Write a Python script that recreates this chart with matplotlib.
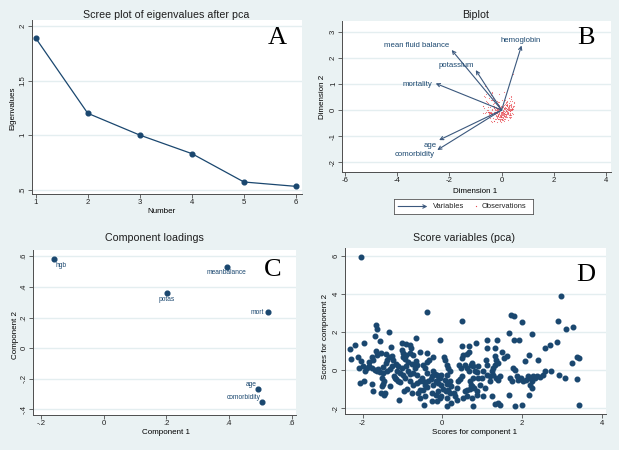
import matplotlib
matplotlib.use('Agg')
import matplotlib.pyplot as plt
import numpy as np

plt.rcParams['font.family'] = ['Liberation Sans', 'DejaVu Sans']

# ---------------- data ----------------
# Panel A: scree plot
component_number = [1, 2, 3, 4, 5, 6]
eigenvalues = [1.89, 1.20, 1.00, 0.83, 0.57, 0.53]

# Panel B: biplot variable arrows (tips)
var_names = ['hemoglobin', 'mean fluid balance', 'potassium', 'mortality', 'age', 'comorbidity']
var_dim1 = [0.76, -1.91, -0.99, -2.52, -2.39, -2.46]
var_dim2 = [2.47, 2.30, 1.53, 1.02, -1.15, -1.53]
# scaling of scores into biplot observation coordinates (dimension 1 sign-flipped)
biplot_obs_scale = (-4.8, 4.3)

# Panel C: component loadings
load_names = ['hgb', 'meanbalance', 'potas', 'mort', 'age', 'comorbidity']
load_comp1 = [-0.16, 0.393, 0.201, 0.523, 0.494, 0.507]
load_comp2 = [0.58, 0.533, 0.357, 0.237, -0.267, -0.352]

# Panel D: scores
score1 = [
    -2.32, -2.29, -2.19, -2.11, -1.97, -2.03, -2.08, -1.98, -1.94, -2.07, -1.97, -1.90, -1.83, -1.77,
    -1.83, -1.73, -1.77, -1.65, -1.67, -1.57, -1.68, -1.67, -1.65, -1.35, -1.54, -1.41, -1.38, -1.41,
    -1.50, -1.61, -1.69, -1.65, -1.56, -1.48, -1.40, -1.31, -1.27, -1.33, -1.27, -1.23, -1.77, -1.75,
    -1.54, -1.48, -1.52, -1.46, -1.44, -1.46, -1.31, -1.21, -1.19, -1.13, -1.10, -1.16, -1.15, -1.10,
    -1.06, -1.08, -1.30, -1.52, -2.03,
    -1.02, -0.90, -0.81, -0.79, -1.02, -0.98, -0.90, -0.81, -0.73, -0.94, -0.85, -0.77, -0.90, -1.00,
    -1.06, -0.98, -0.85, -0.81, -0.74, -0.69, -0.63, -0.66, -0.56, -0.66, -0.98, -0.94, -0.81, -0.73,
    -0.64, -0.56, -0.52, -0.48, -0.44, -0.39, -0.48, -0.56, -0.60, -0.56, -0.47, -0.44, -0.35, -0.29,
    -0.25, -0.38, -0.44, -0.48, -0.38, -0.33, -0.39, -0.24, -0.23, -0.18, -0.14, -0.10, -0.06, -0.02,
    -0.16, -0.10, -0.23, -0.27, -0.16, -0.10, -0.06, -0.02, -0.14, 0.03, -0.02, -0.64, -0.77, -0.88,
    -0.27, -0.07, -0.38, -0.96,
    0.07, 0.04, 0.11, 0.15, 0.19, 0.11, 0.07, 0.11, 0.19, 0.23, 0.15, 0.09, 0.13, 0.23, 0.11, 0.30,
    0.36, 0.40, 0.44, 0.49, 0.46, 0.43, 0.49, 0.53, 0.61, 0.68, 0.68, 0.49, 0.85, 0.57, 0.63, 0.68,
    0.71, 0.74, 0.78, 0.82, 0.88, 0.90, 0.78, 0.69, 0.72, 0.75, 0.79, 0.69, 0.61, 0.53, 0.61, 0.74,
    0.86, 0.86, 1.03, 1.07, 1.20, 1.20, 1.24, 1.28, 1.11, 1.10, 1.11, 0.50, 1.13, 1.32, 1.11, 0.36,
    0.19, 0.33, 0.57, 0.78, 1.24, 0.95, 0.99, 1.03, 0.90,
    1.38, 1.33, 1.36, 1.41, 1.32, 1.28, 1.36, 1.41, 1.46, 1.45, 1.39, 1.55, 1.51, 1.62, 1.67, 1.73,
    1.79, 1.79, 1.93, 1.87, 1.82, 1.78, 1.70, 1.74, 1.91, 1.97, 2.03, 2.10, 2.16, 2.20, 2.24, 2.28,
    2.33, 2.37, 2.45, 2.52, 2.20, 2.24, 2.18, 2.00, 2.26, 2.08, 2.18, 2.41, 1.82, 2.00, 1.67, 1.32,
    2.58, 2.71, 2.89, 2.91, 2.99, 3.11, 3.27, 3.25, 3.37, 3.44, 2.73, 2.94, 3.08, 3.38, 3.44, 2.58,
]
score2 = [
    1.09, 0.60, 1.30, 0.67, 1.42, 0.46, 0.11, 0.19, -0.07, -0.70, -0.56, 0.11, 0.19, 0.11,
    0.42, 0.54, 0.67, 0.77, 1.02, 1.51, 1.82, 2.37, 2.19, 2.00, 0.89, 0.84, 0.54, 0.37,
    0.14, 0.07, 0.00, -0.07, -0.11, -0.16, -0.07, 0.07, 0.19, 0.67, 0.72, 0.54, -0.74, -1.09,
    -1.21, -0.74, -0.86, -0.60, -1.21, -1.33, -0.86, -0.33, -0.42, -0.07, 0.19, 0.32, -0.46, -0.60,
    -0.63, -1.56, 1.20, -0.42, 5.96,
    1.44, 1.37, 1.33, 1.19, 1.07, 0.89, 0.81, 0.89, 0.77, 0.60, 0.42, 0.32, 0.19, 0.11,
    -0.16, -0.28, -0.07, -0.21, -0.16, 0.11, 0.28, 0.46, 0.98, 1.67, 0.67, -0.42, -0.60, -0.77,
    -0.68, -0.60, -0.42, -0.56, -0.77, -0.91, -1.04, -1.04, -1.21, -1.47, -1.82, -1.39, -0.60, -0.46,
    -0.33, -0.16, 0.11, 0.28, 0.42, 0.54, 0.89, 0.67, -0.07, -0.21, -0.28, -0.33, -0.42, -0.25,
    -0.60, -0.68, -0.81, -1.21, -1.30, -1.12, -1.47, -1.39, -1.65, -0.98, -0.77, -0.25, -1.21, -0.98,
    -1.61, 1.61, 3.04, -1.12,
    0.54, 0.67, 0.28, 0.11, -0.07, -0.25, -0.51, -0.74, -0.60, -0.86, -1.04, -1.12, -1.47, -1.74, -1.91, -1.21,
    -0.95, -0.60, -0.46, -0.33, 0.11, 0.25, 0.63, 0.77, 0.84, 0.98, 1.28, 1.28, 1.42, 0.28, 0.11, -0.07,
    0.28, 0.37, 0.19, -0.07, -0.12, -0.42, -0.42, -0.60, -0.77, -0.86, -0.95, -0.98, -1.04, -1.47, -1.39, -1.47,
    -1.12, -1.30, -1.39, -0.95, -0.60, -0.33, -0.07, 0.11, 0.28, 0.54, -0.25, 2.58, 1.58, 1.16, 1.16, -1.56,
    -1.21, -1.39, -1.12, -1.91, -1.39, -0.77, -0.42, -0.07, 0.19,
    1.60, 0.72, 0.54, 0.37, 0.28, -0.28, -0.42, -0.51, -0.33, -1.82, -1.74, 0.63, 0.98, 0.72, 1.93, 2.91,
    2.86, 1.58, 1.58, -0.33, 0.02, 0.11, -0.42, -0.60, -0.51, -0.42, -0.60, -0.51, -0.33, -0.42, -0.60, -0.33,
    -0.42, -0.33, -0.39, -0.25, -0.77, -0.95, -1.30, 2.51, 1.91, 0.46, 0.81, 0.54, -1.91, -1.82, -1.30, -1.77,
    1.18, 1.33, 1.47, 2.61, 3.88, 2.19, 2.25, 0.37, 0.67, 0.63, -0.07, -0.28, -0.42, -0.46, -1.86, -0.07,
]

# ---------------- style ----------------
W, H = 619, 450
BG = '#EAF2F3'
GRID = '#E4EEF0'
NAVY = '#1a476f'
ARROW = '#3b587d'
OBS = '#e8454c'
AXC = '#4d4d4d'
TICK_FS = 5.6
LAB_FS = 5.8
TITLE_FS = 7.7


def rect(l, t, r, b):
    return [l / W, 1 - b / H, (r - l) / W, (b - t) / H]


def ftxt(x, y, s, **kw):
    fig.text(x / W, 1 - y / H, s, **kw)


def style(ax, xticks, xlabels, yticks, ylabels, xlim, ylim):
    ax.set_facecolor('white')
    for s in ['top', 'right']:
        ax.spines[s].set_visible(False)
    for s in ['left', 'bottom']:
        ax.spines[s].set_color(AXC)
        ax.spines[s].set_linewidth(0.7)
    ax.set_xticks(xticks, xlabels)
    ax.set_yticks(yticks, ylabels)
    ax.tick_params(labelsize=TICK_FS, length=2.6, width=0.6, color=AXC, pad=1.2, labelcolor='#222222')
    ax.tick_params(axis='y', labelrotation=90)
    for lab in ax.get_yticklabels():
        lab.set_va('center')
    ax.grid(axis='y', color=GRID, lw=1.0)
    ax.set_axisbelow(True)
    ax.set_xlim(*xlim)
    ax.set_ylim(*ylim)


fig = plt.figure(figsize=(W / 100, H / 100), dpi=100, facecolor=BG)

# ---------------- Panel A ----------------
axA = fig.add_axes(rect(32, 20, 302, 194))
axA.plot(component_number, eigenvalues, color=NAVY, lw=0.9, marker='o', ms=3.4, mfc=NAVY, mec=NAVY)
style(axA, [1, 2, 3, 4, 5, 6], ['1', '2', '3', '4', '5', '6'],
      [0.5, 1, 1.5, 2], ['.5', '1', '1.5', '2'], (0.93, 6.115), (0.46, 2.055))
ftxt(166, 17.5, 'Scree plot of eigenvalues after pca', ha='center', va='baseline', fontsize=TITLE_FS, color='#1e1e1e')
ftxt(161.7, 213, 'Number', ha='center', va='baseline', fontsize=LAB_FS)
ftxt(12.5, 108, 'Eigenvalues', ha='center', va='center', rotation=90, fontsize=LAB_FS)
ftxt(277, 38, 'A', ha='center', va='center', fontsize=19, family='Liberation Serif', color='black')

# ---------------- Panel B ----------------
axB = fig.add_axes(rect(342.3, 21, 611, 171.7))
style(axB, [-6, -4, -2, 0, 2, 4], ['-6', '-4', '-2', '0', '2', '4'],
      [-2, -1, 0, 1, 2, 3], ['-2', '-1', '0', '1', '2', '3'], (-6.09, 4.18), (-2.36, 3.41))
obs_x = np.array(score1) / biplot_obs_scale[0]
obs_y = np.array(score2) / biplot_obs_scale[1]
axB.plot(obs_x, obs_y, ls='none', marker='.', ms=1.6, color=OBS, alpha=0.75, mew=0)
label_offsets = {  # (dx, dy) in points, ha
    'hemoglobin': ((-0.7, 3.8), 'center'),
    'mean fluid balance': ((-1.5, 3.4), 'right'),
    'potassium': ((-1.0, 3.4), 'right'),
    'mortality': ((-2.2, -1.0), 'right'),
    'age': ((-1.9, -4.1), 'right'),
    'comorbidity': ((-1.7, -3.1), 'right'),
}
for name, vx, vy in zip(var_names, var_dim1, var_dim2):
    axB.annotate('', xy=(vx, vy), xytext=(0, 0),
                 arrowprops=dict(arrowstyle='->', color=ARROW, lw=0.8, shrinkA=0, shrinkB=0, mutation_scale=6))
    (dx, dy), ha = label_offsets[name]
    axB.annotate(name, xy=(vx, vy), xytext=(dx, dy), textcoords='offset points',
                 ha=ha, va='center', fontsize=5.6, color=NAVY)
ftxt(475.5, 18.3, 'Biplot', ha='center', va='baseline', fontsize=TITLE_FS, color='#1e1e1e')
ftxt(475.3, 193.3, 'Dimension 1', ha='center', va='baseline', fontsize=LAB_FS)
ftxt(322.0, 96.7, 'Dimension 2', ha='center', va='center', rotation=90, fontsize=LAB_FS)
ftxt(585.7, 38.3, 'B', ha='center', va='center', fontsize=19, family='Liberation Serif', color='black')

# legend box
axL = fig.add_axes(rect(394, 199, 533, 214))
axL.set_xlim(0, 1)
axL.set_ylim(0, 1)
axL.set_xticks([])
axL.set_yticks([])
axL.set_facecolor('white')
for s in axL.spines.values():
    s.set_color('#555555')
    s.set_linewidth(0.6)
axL.annotate('', xy=(0.24, 0.5), xytext=(0.03, 0.5),
             arrowprops=dict(arrowstyle='->', color=ARROW, lw=0.8, shrinkA=0, shrinkB=0, mutation_scale=6))
axL.text(0.278, 0.5, 'Variables', ha='left', va='center', fontsize=5.4, color='#222222')
axL.plot([0.593], [0.5], ls='none', marker='.', ms=1.8, color=OBS, mew=0)
axL.text(0.632, 0.5, 'Observations', ha='left', va='center', fontsize=5.4, color='#222222')

# ---------------- Panel C ----------------
axC = fig.add_axes(rect(33, 250, 296, 415))
axC.plot(load_comp1, load_comp2, ls='none', marker='o', ms=3.4, color=NAVY)
style(axC, [-0.2, 0, 0.2, 0.4, 0.6], ['-.2', '0', '.2', '.4', '.6'],
      [-0.4, -0.2, 0, 0.2, 0.4, 0.6], ['-.4', '-.2', '0', '.2', '.4', '.6'], (-0.226, 0.614), (-0.437, 0.641))
load_offsets = {
    'hgb': ((1.2, -4.6), 'left'),
    'meanbalance': ((0, -4.4), 'center'),
    'potas': ((0, -4.6), 'center'),
    'mort': ((-2.4, -0.7), 'right'),
    'age': ((-1.4, 2.9), 'right'),
    'comorbidity': ((-1.4, 3.1), 'right'),
}
for name, x, y in zip(load_names, load_comp1, load_comp2):
    (dx, dy), ha = load_offsets[name]
    axC.annotate(name, xy=(x, y), xytext=(dx, dy), textcoords='offset points',
                 ha=ha, va='center', fontsize=4.8, color=NAVY)
ftxt(154.5, 240.5, 'Component loadings', ha='center', va='baseline', fontsize=TITLE_FS, color='#1e1e1e')
ftxt(165.7, 434, 'Component 1', ha='center', va='baseline', fontsize=LAB_FS)
ftxt(15.5, 335, 'Component 2', ha='center', va='center', rotation=90, fontsize=LAB_FS)
ftxt(272.7, 270, 'C', ha='center', va='center', fontsize=19, family='Liberation Serif', color='black')

# ---------------- Panel D ----------------
axD = fig.add_axes(rect(344.7, 248.3, 606, 414.3))
axD.plot(score1, score2, ls='none', marker='o', ms=3.3, color=NAVY)
style(axD, [-2, 0, 2, 4], ['-2', '0', '2', '4'],
      [-2, 0, 2, 4, 6], ['-2', '0', '2', '4', '6'], (-2.45, 4.11), (-2.33, 6.42))
ftxt(464.2, 240.5, 'Score variables (pca)', ha='center', va='baseline', fontsize=TITLE_FS, color='#1e1e1e')
ftxt(475, 433.7, 'Scores for component 1', ha='center', va='baseline', fontsize=LAB_FS)
ftxt(325.5, 336.7, 'Scores for component 2', ha='center', va='center', rotation=90, fontsize=LAB_FS)
ftxt(586, 275, 'D', ha='center', va='center', fontsize=19, family='Liberation Serif', color='black')

fig.savefig('out.png', dpi=100, facecolor=BG)
